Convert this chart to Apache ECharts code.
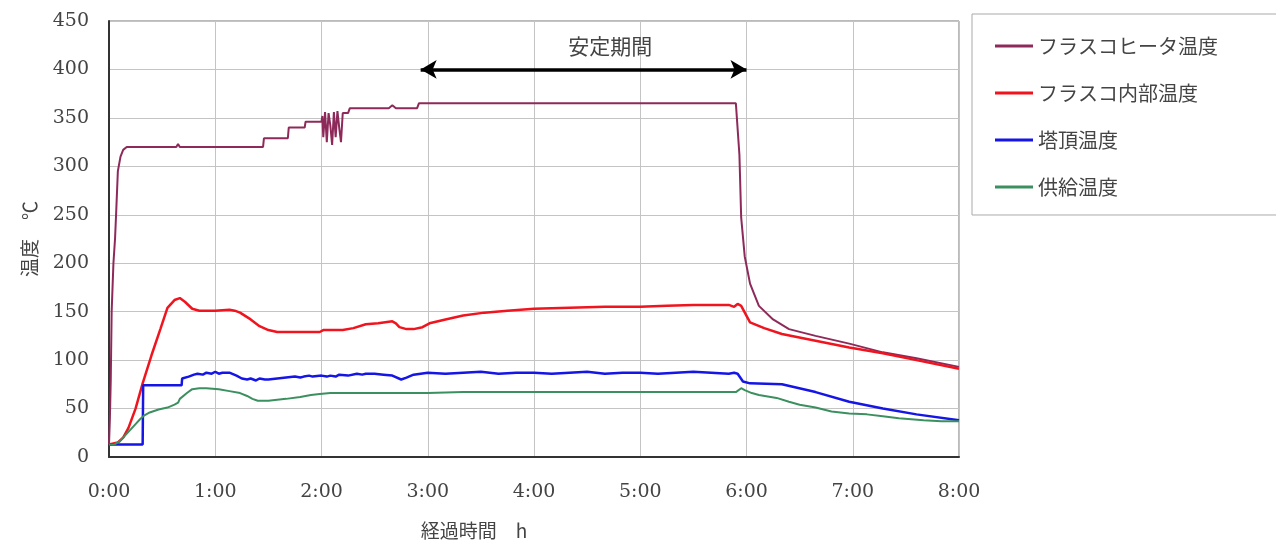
<!DOCTYPE html>
<html><head><meta charset="utf-8">
<script src="https://cdn.jsdelivr.net/npm/echarts@6/dist/echarts.min.js"></script>
<style>html,body{margin:0;padding:0;background:#fff}#c{width:1276px;height:545px}</style>
</head><body><div id="c"></div>
<script>
// time in minutes, temperature in °C
const seriesNames = ['フラスコヒータ温度','フラスコ内部温度','塔頂温度','供給温度'];
const xTickLabels = ['0:00','1:00','2:00','3:00','4:00','5:00','6:00','7:00','8:00'];
const yTickLabels = ['0','50','100','150','200','250','300','350','400','450'];

const heater = [[0,13],[0.5,40],[1,80],[1.5,150],[2.5,200],[3.4,225],[4,250],[5,295],[6.5,310],[8,317],[10,320],
 [38,320],[39,323],[40,320],[65,320],[66,321],[67,320],[87,320],[87.5,329],[101,329],[101.5,340],[110.5,340],[111,346],
 [120,346],[120.5,352],[121,330],[122,356],[123,325],[124,355],[125,342],[126,322],[127,356],[128,330],[129,357],
 [130,340],[131,325],[132,355],[135,355],[136,360],[158,360],[160,363],[162,360],[174,360],[175,365],[354,365],
 [355,363],[356,312],[357,247],[359,207],[362,179],[367,156],[375,142],[384,132],[399,125],[418,117],[437,108],
 [456,102],[480,93]];

const inner = [[0,13],[5,15],[8,20],[11,30],[15,50],[19,76],[24,105],[29,132],[33,154],[37,162],[40,164],[43,160],
 [47,153],[51,151],[60,151],[68,152],[71,151],[74,149],[80,142],[85,135],[90,131],[95,129],[119,129],[121,131],
 [132,131],[138,133],[145,137],[152,138],[160,140],[162,138],[164,134],[168,132],[172,132],[177,134],[181,138],
 [190,142],[200,146],[212,149],[225,151],[240,153],[260,154],[280,155],[300,155],[315,156],[330,157],[350,157],
 [353,155],[355,158],[357,156],[362,139],[370,133],[380,127],[399,120],[418,113],[437,107],[456,100],[480,91]];

const top_ = [[0,13],[19,13],[19.3,74],[41,74],[41.3,81],[45,83],[48,85],[50,86],[53,85],[55,87],[58,86],[60,88],[62,86],[64,87],[68,87],[72,84],
 [75,81],[78,80],[80,81],[83,79],[85,81],[88,80],[90,80],[95,81],[100,82],[105,83],[108,82],[110,83],[113,84],[115,83],[120,84],[123,83],[125,84],[128,83],[130,85],[135,84],[140,86],[143,85],[145,86],[150,86],
 [155,85],[160,84],[165,80],[168,82],[172,85],[180,87],[190,86],[200,87],[210,88],[220,86],[230,87],[240,87],[250,86],[260,87],[270,88],[280,86],[290,87],[300,87],
 [310,86],[320,87],[330,88],[340,87],[350,86],[353,87],[355,86],[358,78],[362,76],[380,75],[399,67],[418,57],[437,50],[456,44],[480,38]];

const feed = [[0,13],[3,13],[6,16],[9,22],[12,28],[15,34],[17.5,39],[20,43],[23,46],[28,49],[33,51],[37,54],[39,56],
 [40,60],[41,62],[44,66],[47,70],[51,71],[55,71],[62,70],[68,68],[74,66],[78,63],[81,60],[84,58],[90,58],[95,59],
 [100,60],[108,62],[114,64],[119,65],[125,66],[150,66],[180,66],[200,67],[250,67],[300,67],[350,67],[354,67],
 [357,71],[359,69],[363,66],[367,64],[377,61],[384,57],[390,54],[399,51],[408,47],[418,45],[428,44],[437,42],
 [446,40],[460,38],[470,37],[480,37]];

const stablePeriod = [176, 360];   // arrow start/end (minutes)
const stableLevel = 400;           // arrow height
const stableLabel = '安定期間';

const serif = "'DejaVu Serif', 'Liberation Serif', serif";
const jp = "'Noto Sans CJK JP', sans-serif";

const chart = echarts.init(document.getElementById('c'));
const mk = (name, data, color, w) => ({
  name, type: 'line', data, showSymbol: false, symbol: 'none', animation: false,
  lineStyle: { color, width: w }, itemStyle: { color }
});
const s0 = mk(seriesNames[0], heater, '#8e2a5a', 2);
s0.markLine = {
  silent: true, animation: false, symbol: ['arrow','arrow'], symbolSize: [14, 16],
  lineStyle: { color: '#000', width: 3.5, type: 'solid' }, label: { show: false },
  data: [[{ coord: [stablePeriod[0], stableLevel] }, { coord: [stablePeriod[1], stableLevel] }]]
};
s0.markPoint = {
  silent: true, animation: false, symbol: 'circle', symbolSize: 0,
  label: { show: true, position: 'inside', formatter: stableLabel, color: '#444', fontFamily: jp, fontSize: 21 },
  data: [{ coord: [283, 424] }]
};
const option = {
  animation: false,
  backgroundColor: '#fff',
  grid: { left: 109, right: 317, top: 21, bottom: 82, show: true, borderColor: '#777', borderWidth: 1 },
  legend: {
    left: 972, top: 14, orient: 'vertical', icon: 'rect', itemWidth: 38, itemHeight: 3, itemGap: 27,
    padding: [22, 80, 18, 23], borderColor: '#aaa', borderWidth: 1,
    textStyle: { fontFamily: jp, fontSize: 20, color: '#444' },
    data: seriesNames
  },
  xAxis: {
    type: 'value', min: 0, max: 480, interval: 60,
    axisLine: { show: true, lineStyle: { color: '#333', width: 2 } },
    axisTick: { show: false },
    axisLabel: { margin: 26, fontFamily: serif, fontSize: 19, color: '#444',
      formatter: v => xTickLabels[Math.round(v / 60)] },
    splitLine: { show: true, lineStyle: { color: '#c4c4c4', width: 1 } },
    name: '経過時間　h', nameLocation: 'middle', nameGap: 64,
    nameTextStyle: { fontFamily: jp, fontSize: 19, color: '#444', padding: [0, 120, 0, 0] }
  },
  yAxis: {
    type: 'value', min: 0, max: 450, interval: 50,
    axisLine: { show: true, lineStyle: { color: '#333', width: 2 } },
    axisTick: { show: false },
    axisLabel: { margin: 20, fontFamily: serif, fontSize: 19, color: '#444',
      formatter: v => yTickLabels[Math.round(v / 50)] },
    splitLine: { show: true, lineStyle: { color: '#c4c4c4', width: 1 } },
    name: '温度　℃', nameLocation: 'middle', nameGap: 70, nameRotate: 90,
    nameTextStyle: { fontFamily: jp, fontSize: 19, color: '#444' }
  },
  series: [s0, mk(seriesNames[1], inner, '#f0141e', 2.5), mk(seriesNames[2], top_, '#1515e6', 2.5), mk(seriesNames[3], feed, '#3c9060', 2)]
};
chart.setOption(option);
</script></body></html>
